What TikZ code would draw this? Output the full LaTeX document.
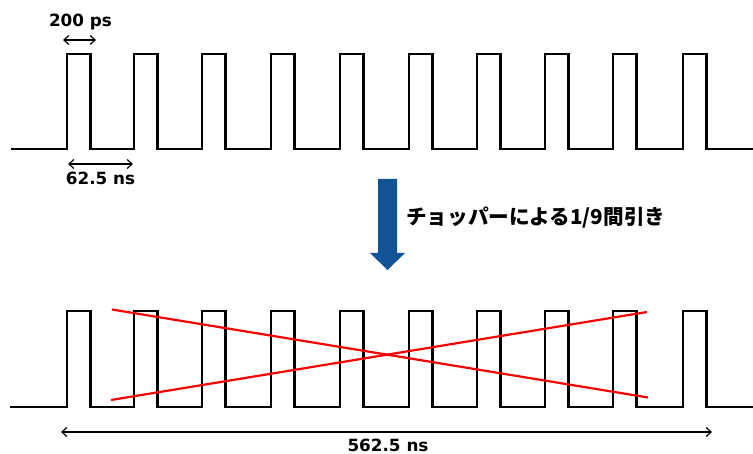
\documentclass[tikz,border=0pt]{standalone}
\usepackage{fontspec}
\setmainfont{DejaVu Sans}
\newfontfamily\jpfont{Noto Sans CJK JP}
\usetikzlibrary{arrows.meta}
\definecolor{arrowblue}{RGB}{16,84,150}
\definecolor{cutred}{RGB}{250,0,0}
\tikzset{
  wave/.style={line width=2.2pt, line join=miter, black},
  dimline/.style={line width=1.2pt, {Straight Barb[length=5pt,width=9pt]}-{Straight Barb[length=5pt,width=9pt]}},
  lbl/.style={font=\fontsize{16.8}{18}\selectfont\bfseries, inner sep=0pt},
  cut/.style={line width=2.2pt, cutred},
}
\begin{document}
\begin{tikzpicture}[x=1pt,y=-1pt]
\useasboundingbox (0,0) rectangle (753,454);
% top pulse train
\draw[wave] (11,149) \foreach \r in {67,134,202,271,340,409,477,545,613,683} { -- (\r,149) -- (\r,54) -- (\r+23.5,54) -- (\r+23.5,149) } -- (753,149);
% bottom pulse train
\draw[wave] (10,407) \foreach \r in {67,134,202,271,340,409,477,545,613,683} { -- (\r,407) -- (\r,311) -- (\r+23.5,311) -- (\r+23.5,407) } -- (753,407);
% dimension arrows top
\coordinate (pwL) at (63,40);
\coordinate (pwR) at (96,40);
\draw[dimline] (pwL) -- (pwR);
\node[lbl] (pw) at (80.5,22) {200 ps};
\coordinate (prL) at (68,164);
\coordinate (prR) at (133,164);
\draw[dimline] (prL) -- (prR);
\node[lbl] (pr) at (100.5,178) {62.5 ns};
% blue arrow
\fill[arrowblue] (378,179) -- (397,179) -- (397,253) -- (405,253) -- (387.5,270) -- (370,253) -- (378,253) -- cycle;
\node[anchor=west, inner sep=0pt, font=\jpfont\fontsize{20.6}{22}\selectfont\bfseries] (txt) at (406,218) {チョッパーによる1/9間引き};
% red crosses
\coordinate (c1a) at (112,309.5);
\coordinate (c1b) at (648,397.5);
\coordinate (c2a) at (111,400);
\coordinate (c2b) at (647,312);
\draw[cut] (c1a) -- (c1b);
\draw[cut] (c2a) -- (c2b);
% bottom dimension
\coordinate (tL) at (61,432);
\coordinate (tR) at (712,432);
\draw[dimline] (tL) -- (tR);
\node[lbl] (tot) at (388,445) {562.5 ns};
\end{tikzpicture}
\end{document}
